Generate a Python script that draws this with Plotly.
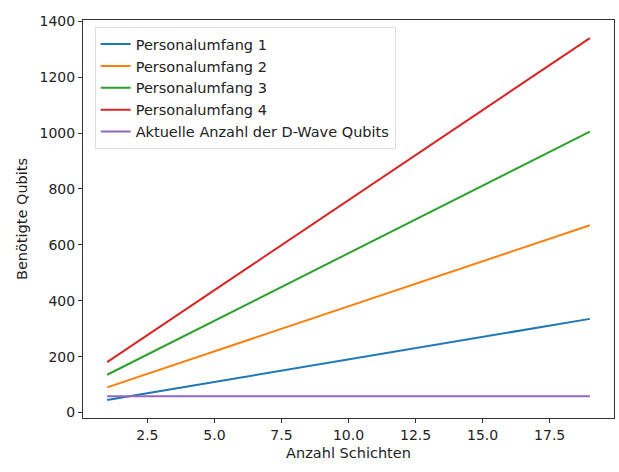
import plotly.graph_objects as go

layers = [1, 19]
personal_1 = [45, 335]
personal_2 = [90, 670]
personal_3 = [135, 1005]
personal_4 = [180, 1340]
dwave = [58, 58]

names = ["Personalumfang 1", "Personalumfang 2", "Personalumfang 3",
         "Personalumfang 4", "Aktuelle Anzahl der D-Wave Qubits"]
series = [personal_1, personal_2, personal_3, personal_4, dwave]
colors = ["#1f77b4", "#ff7f0e", "#2ca02c", "#d62728", "#9467bd"]

fig = go.Figure()
for name, vals, c in zip(names, series, colors):
    fig.add_trace(go.Scatter(x=layers, y=vals, mode="lines", name=name,
                             line=dict(color=c, width=2)))

tick_font = dict(family="DejaVu Sans", size=14, color="#222")
label_font = dict(family="DejaVu Sans", size=14.5, color="#222")
axis_common = dict(showline=True, mirror=True, linecolor="#333", linewidth=1,
                   ticks="outside", ticklen=4, tickcolor="#333", showgrid=False,
                   zeroline=False, tickfont=tick_font, automargin=False)
fig.update_layout(
    width=619, height=472,
    margin=dict(l=83, r=5, t=20, b=54),
    paper_bgcolor="white", plot_bgcolor="white",
    font=label_font,
    xaxis=dict(range=[0.1, 19.9], tickvals=[2.5, 5, 7.5, 10, 12.5, 15, 17.5],
               ticktext=["2.5", "5.0", "7.5", "10.0", "12.5", "15.0", "17.5"],
               title=dict(text="Anzahl Schichten", font=label_font, standoff=6),
               **axis_common),
    yaxis=dict(range=[-19.75, 1404.75], tickvals=list(range(0, 1401, 200)),
               title=dict(text="Benötigte Qubits", font=label_font, standoff=8),
               **axis_common),
    legend=dict(x=0.022, y=0.982, xanchor="left", yanchor="top",
                bgcolor="white", bordercolor="#ddd", borderwidth=1,
                font=label_font, tracegroupgap=0),
    showlegend=True,
)
fig.write_html("out.html", config={"displayModeBar": False},
               post_script="document.body.style.margin='0';document.body.style.overflow='hidden';")
